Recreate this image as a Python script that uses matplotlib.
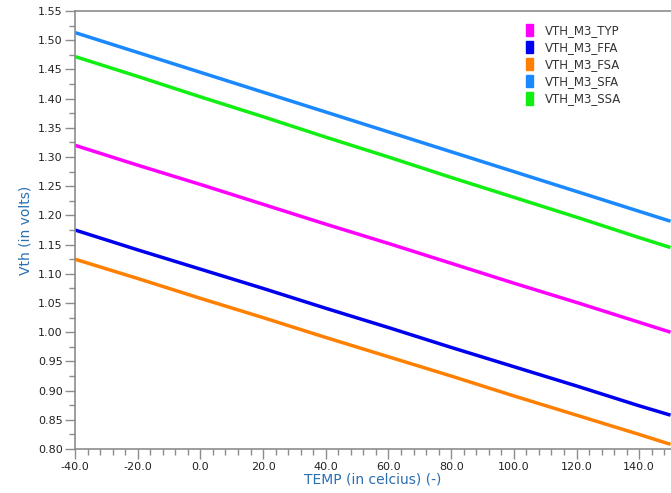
import matplotlib.pyplot as plt
from matplotlib.patches import Patch
from matplotlib.ticker import MultipleLocator, FormatStrFormatter

# temperatures (celsius) and threshold voltages
temp = [-40, -20, 0, 20, 40, 60, 80, 100, 120, 140, 150]
vth_typ = [1.320, 1.286, 1.253, 1.219, 1.185, 1.152, 1.118, 1.084, 1.051, 1.017, 1.000]
vth_ffa = [1.175, 1.141, 1.108, 1.075, 1.041, 1.008, 0.974, 0.941, 0.908, 0.874, 0.858]
vth_fsa = [1.125, 1.092, 1.058, 1.025, 0.991, 0.958, 0.925, 0.891, 0.858, 0.825, 0.808]
vth_sfa = [1.513, 1.479, 1.445, 1.411, 1.377, 1.343, 1.309, 1.275, 1.241, 1.207, 1.190]
vth_ssa = [1.472, 1.438, 1.403, 1.369, 1.334, 1.300, 1.265, 1.231, 1.197, 1.162, 1.145]

names = ['VTH_M3_TYP', 'VTH_M3_FFA', 'VTH_M3_FSA', 'VTH_M3_SFA', 'VTH_M3_SSA']
series = [vth_typ, vth_ffa, vth_fsa, vth_sfa, vth_ssa]
colors = ['#ff00ff', '#0000f0', '#ff8000', '#1a88ff', '#11ee11']

fig = plt.figure(figsize=(6.71, 4.93), dpi=100)
ax = fig.add_axes([0.1118, 0.0892, 0.8875, 0.8885])

for vals, c in zip(series, colors):
    ax.plot(temp, vals, color=c, lw=2.5, solid_capstyle='butt')

ax.set_xlim(-40, 150)
ax.set_ylim(0.80, 1.55)
ax.xaxis.set_major_locator(MultipleLocator(20))
ax.xaxis.set_minor_locator(MultipleLocator(4))
ax.yaxis.set_major_locator(MultipleLocator(0.05))
ax.yaxis.set_minor_locator(MultipleLocator(0.025))
ax.xaxis.set_major_formatter(FormatStrFormatter('%.1f'))
ax.yaxis.set_major_formatter(FormatStrFormatter('%.2f'))

grey = '#8c8c8c'
for s in ['left', 'bottom', 'top']:
    ax.spines[s].set_color(grey)
    ax.spines[s].set_linewidth(1.2)
ax.spines['right'].set_visible(False)
ax.tick_params(which='major', length=7, width=1, color=grey, labelsize=8, labelcolor='#222222', pad=2)
ax.tick_params(which='minor', length=4, width=1, color=grey)

ax.set_xlabel('TEMP (in celcius) (-)', color='#2a6fb0', fontsize=10, labelpad=1)
ax.set_ylabel('Vth (in volts)', color='#2a6fb0', fontsize=10, labelpad=4)

handles = [Patch(facecolor=c, edgecolor=c) for c in colors]
leg = ax.legend(handles, names, loc='upper right', bbox_to_anchor=(0.935, 0.995), frameon=False,
                fontsize=8.5, handlelength=0.6, handleheight=1.2, handletextpad=1.0,
                labelspacing=0.35)
for t in leg.get_texts():
    t.set_color('#333333')

fig.savefig('out.png', dpi=100)
